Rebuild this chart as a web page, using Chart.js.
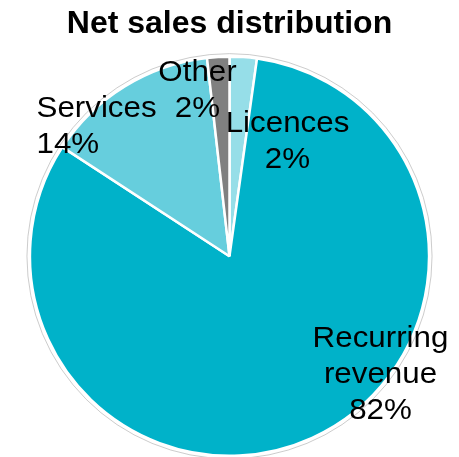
<!DOCTYPE html>
<html>
<head>
<meta charset="utf-8">
<script src="https://cdn.jsdelivr.net/npm/chart.js@4"></script>
<style>
  html, body { margin: 0; padding: 0; background: #fff; }
  #wrap { width: 459px; height: 457px; }
</style>
</head>
<body>
<div id="wrap"><canvas id="ventas"></canvas></div>
<script>
const categorias = ["Licences", "Recurring revenue", "Services", "Other"]
const lineasEtiqueta = [["Licences"], ["Recurring", "revenue"], ["Services"], ["Other"]]
const valores = [2.2, 82, 14, 1.8]
const colores = ['rgb(150, 222, 232)', 'rgb(0, 178, 201)', 'rgb(102, 206, 221)', 'rgb(128, 128, 128)']

// where each label sits, relative to the pie centre (px), plus alignment
const posEtiquetas = [
  { dx: 58, dy: -124, align: 'center' },
  { dx: 151, dy: 91, align: 'center' },
  { dx: -193, dy: -139, align: 'left' },
  { dx: -32, dy: -175, align: 'center' }
]

const etiquetasPlugin = {
  id: 'etiquetas',
  afterDatasetsDraw(chart) {
    const arco = chart.getDatasetMeta(0).data[0]
    const cx = arco.x, cy = arco.y
    const ctx = chart.ctx
    ctx.save()
    // faint outline around the pie
    ctx.beginPath()
    ctx.arc(cx, cy, arco.outerRadius + 3, 0, Math.PI * 2)
    ctx.strokeStyle = 'rgba(170, 170, 170, 0.6)'
    ctx.lineWidth = 1
    ctx.stroke()

    ctx.fillStyle = '#000'
    ctx.font = '29px "Liberation Sans", Arial, sans-serif'
    ctx.textBaseline = 'alphabetic'
    const estirar = 1.08
    valores.forEach((v, i) => {
      const p = posEtiquetas[i]
      const lineas = lineasEtiqueta[i].concat([Math.round(v) + '%'])
      lineas.forEach((t, j) => {
        const w = ctx.measureText(t).width * estirar
        let x = cx + p.dx
        if (p.align === 'center') x -= w / 2
        const y = cy + p.dy + j * 36
        ctx.save()
        ctx.translate(x, y)
        ctx.scale(estirar, 1)
        ctx.fillText(t, 0, 0)
        ctx.restore()
      })
    })
    ctx.restore()
  }
}

new Chart(document.querySelector('#ventas'), {
  type: 'pie',
  data: {
    labels: categorias,
    datasets: [{
      data: valores,
      backgroundColor: colores,
      borderColor: '#ffffff',
      borderWidth: 2.5
    }]
  },
  options: {
    responsive: true,
    maintainAspectRatio: false,
    animation: false,
    layout: { padding: 0 },
    plugins: {
      legend: { display: false },
      tooltip: { enabled: false },
      title: {
        display: true,
        text: 'Net sales distribution',
        color: '#000',
        font: { family: '"Liberation Sans", Arial, sans-serif', size: 32, weight: 'bold' },
        padding: { top: 5, bottom: 12 }
      }
    }
  },
  plugins: [etiquetasPlugin]
})
</script>
</body>
</html>
